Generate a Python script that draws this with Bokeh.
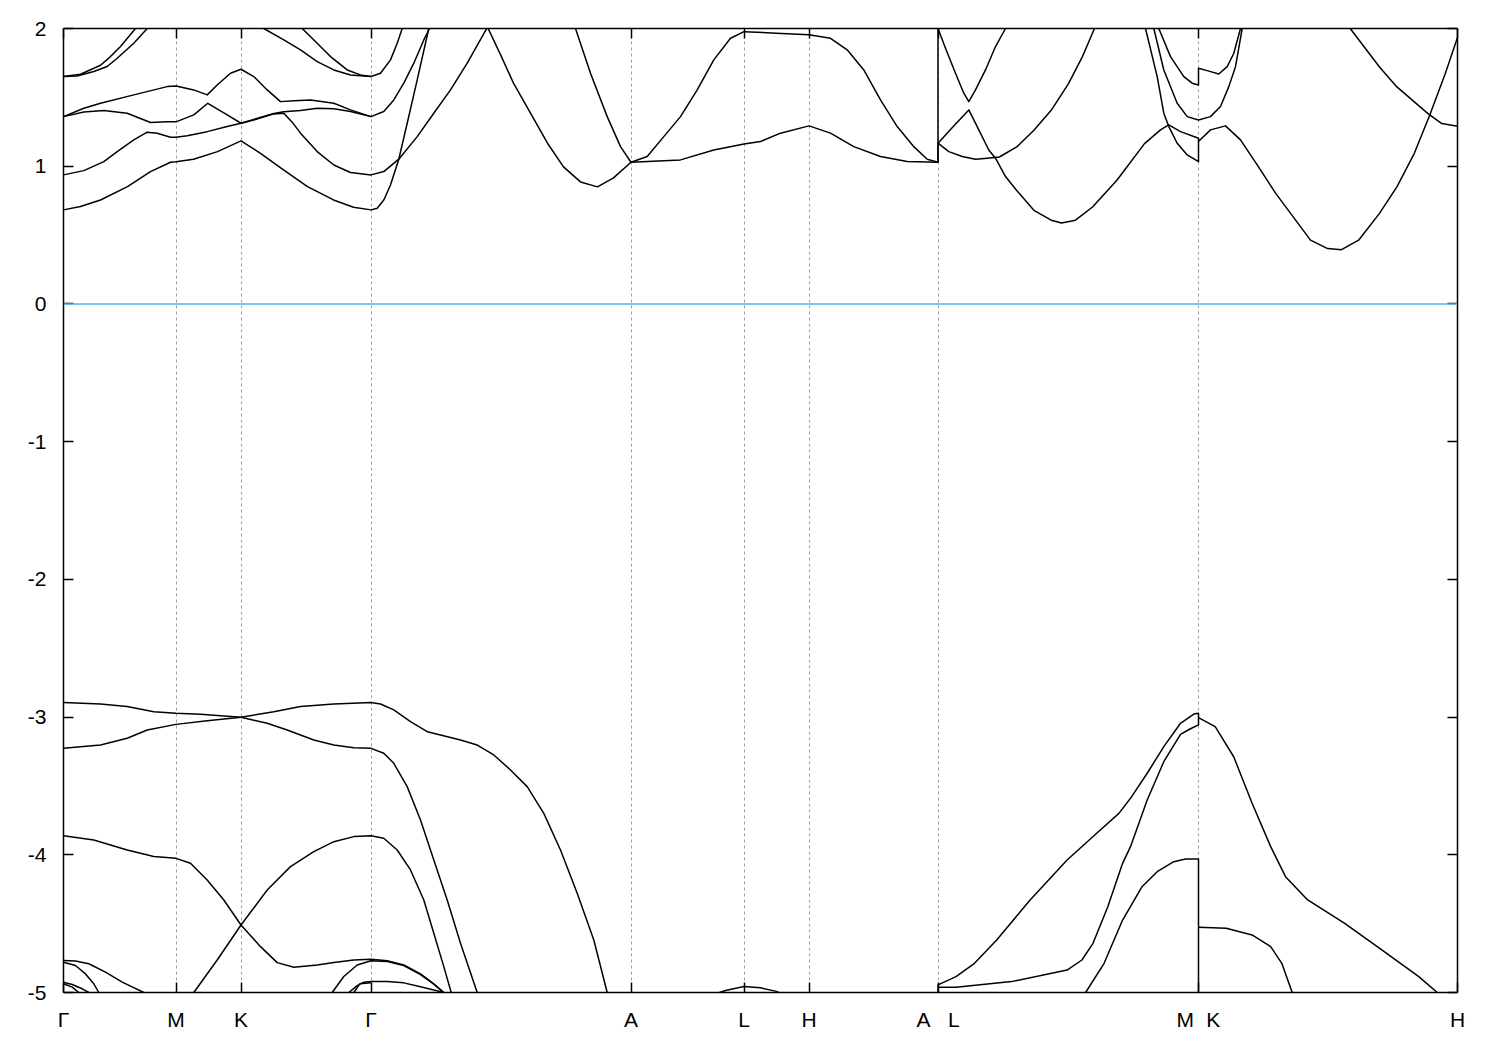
from bokeh.plotting import figure
from bokeh.models import Range1d, FixedTicker, LinearAxis, Span
from bokeh.embed import file_html
from bokeh.resources import INLINE

# ---------------- high-symmetry path ----------------
sym_k = [0.0, 1.125, 1.775, 3.075, 5.675, 6.805, 7.455, 8.745, 11.35, 13.94]
sym_labels = ["Γ", "M", "K", "Γ", "A", "L", "H", "A\u2002\u2004L", "M\u2002\u200aK", "H"]
e_ticks = [-5, -4, -3, -2, -1, 0, 1, 2]
e_tick_labels = ["-5", "-4", "-3", "-2", "-1", "0", "1", "2"]
e_fermi = 0.0

# ---------------- conduction bands ----------------
k_c1 = [0, 0.17, 0.37, 0.64, 0.87, 1.07, 1.125, 1.30, 1.54, 1.775, 1.97, 2.20, 2.44, 2.70, 2.90,
        3.075, 3.137, 3.203, 3.27, 3.353, 3.437, 3.537, 3.653]
e_c1 = [0.683, 0.707, 0.755, 0.852, 0.961, 1.029, 1.033, 1.051, 1.106, 1.184, 1.094, 0.973, 0.852, 0.755, 0.702,
        0.683, 0.695, 0.755, 0.864, 1.051, 1.312, 1.627, 2.0]

k_c2 = [0, 0.203, 0.403, 0.537, 0.703, 0.837, 0.937, 1.07, 1.125, 1.237, 1.437, 1.637, 1.775, 1.903, 2.103,
        2.203, 2.287, 2.37, 2.537, 2.703, 2.87, 3.075, 3.203, 3.353, 3.537, 3.703, 3.87, 4.037, 4.24, 4.37,
        4.50, 4.67, 4.84, 5.00, 5.17, 5.34, 5.50, 5.675]
e_c2 = [0.937, 0.968, 1.033, 1.106, 1.191, 1.247, 1.24, 1.21, 1.21, 1.222, 1.251, 1.288, 1.312, 1.336, 1.38,
        1.385, 1.32, 1.24, 1.106, 1.009, 0.954, 0.937, 0.961, 1.051, 1.215, 1.385, 1.554, 1.748, 2.01, 1.81,
        1.603, 1.385, 1.167, 0.995, 0.886, 0.85, 0.915, 1.029]

k_c3 = [0, 0.203, 0.403, 0.637, 0.87, 1.037, 1.125, 1.303, 1.443, 1.637, 1.775, 1.903, 2.103, 2.203, 2.37,
        2.537, 2.703, 2.87, 3.075, 3.203, 3.303, 3.403, 3.503, 3.603, 3.66]
e_c3 = [1.36, 1.394, 1.404, 1.385, 1.317, 1.322, 1.322, 1.373, 1.457, 1.373, 1.312, 1.34, 1.383, 1.395, 1.404,
        1.421, 1.418, 1.397, 1.36, 1.397, 1.481, 1.603, 1.748, 1.917, 2.0]

k_c4 = [0, 0.203, 0.37, 0.703, 1.037, 1.125, 1.303, 1.437, 1.537, 1.67, 1.775, 1.903, 2.037, 2.17, 2.303,
        2.47, 2.703, 2.87, 3.075]
e_c4 = [1.36, 1.421, 1.457, 1.518, 1.578, 1.583, 1.554, 1.518, 1.59, 1.675, 1.704, 1.651, 1.554, 1.469, 1.476,
        1.481, 1.457, 1.409, 1.36]

k_c5 = [0, 0.17, 0.37, 0.47, 0.57, 0.72]
e_c5 = [1.651, 1.668, 1.733, 1.796, 1.869, 2.0]

k_c6 = [0, 0.137, 0.303, 0.437, 0.537, 0.703, 0.837]
e_c6 = [1.651, 1.655, 1.688, 1.724, 1.784, 1.893, 2.0]

k_c7 = [2.003, 2.203, 2.37, 2.537, 2.703, 2.87, 3.075, 3.17, 3.27, 3.337, 3.387]
e_c7 = [2.0, 1.917, 1.845, 1.76, 1.699, 1.663, 1.651, 1.675, 1.772, 1.893, 2.0]

k_c8 = [2.387, 2.537, 2.67, 2.837, 2.97, 3.075]
e_c8 = [2.0, 1.893, 1.796, 1.699, 1.663, 1.651]

k_c9 = [5.12, 5.27, 5.437, 5.57, 5.675, 5.837, 6.003, 6.17, 6.337, 6.503, 6.67, 6.805, 7.13, 7.455, 7.67,
        7.837, 8.003, 8.17, 8.337, 8.503, 8.637, 8.745, 8.745, 8.82, 8.92, 9.003, 9.053, 9.12, 9.22, 9.32, 9.42]
e_c9 = [2.0, 1.675, 1.36, 1.142, 1.029, 1.07, 1.215, 1.36, 1.554, 1.772, 1.929, 1.977, 1.966, 1.954, 1.929,
        1.845, 1.699, 1.481, 1.288, 1.142, 1.051, 1.029, 2.0, 1.857, 1.675, 1.53, 1.469, 1.554, 1.699, 1.869, 2.0]

k_c10 = [5.675, 6.17, 6.503, 6.805, 6.97, 7.17, 7.455, 7.67, 7.903, 8.17, 8.437, 8.745,
         8.745, 8.90, 9.053, 9.153, 9.253, 9.32, 9.42, 9.53, 9.704, 9.877, 9.98, 10.12, 10.29, 10.534, 10.81,
         10.97, 11.053, 11.17, 11.35,
         11.35, 11.47, 11.62, 11.77, 11.95, 12.124, 12.297, 12.47, 12.642, 12.78, 12.951, 13.158, 13.334,
         13.507, 13.662, 13.818, 13.94]
e_c10 = [1.029, 1.046, 1.118, 1.162, 1.179, 1.24, 1.293, 1.24, 1.142, 1.07, 1.034, 1.029,
         1.167, 1.29, 1.409, 1.264, 1.118, 1.058, 0.925, 0.826, 0.68, 0.608, 0.588, 0.608, 0.704, 0.898, 1.164,
         1.264, 1.30, 1.251, 1.203,
         1.179, 1.264, 1.293, 1.191, 0.995, 0.801, 0.632, 0.463, 0.402, 0.394, 0.463, 0.656, 0.85,
         1.092, 1.37, 1.673, 1.935]

k_c11 = [8.745, 8.853, 8.987, 9.12, 9.237, 9.359, 9.532, 9.704, 9.877, 10.05, 10.188, 10.31]
e_c11 = [1.167, 1.106, 1.07, 1.051, 1.058, 1.067, 1.14, 1.261, 1.406, 1.6, 1.794, 2.0]

k_c12 = [10.82, 10.937, 11.003, 11.053, 11.137, 11.237, 11.35, 11.35]
e_c12 = [2.0, 1.651, 1.385, 1.288, 1.167, 1.082, 1.033, 1.179]

k_c13 = [10.903, 11.003, 11.137, 11.237, 11.35, 11.47, 11.57, 11.653, 11.72, 11.787]
e_c13 = [2.0, 1.699, 1.457, 1.36, 1.336, 1.36, 1.433, 1.578, 1.723, 2.0]

k_c14 = [10.953, 11.07, 11.203, 11.287, 11.35, 11.35, 11.437, 11.553, 11.637, 11.703, 11.77]
e_c14 = [2.0, 1.796, 1.651, 1.603, 1.59, 1.711, 1.694, 1.67, 1.723, 1.82, 2.0]

k_c15 = [12.867, 13.16, 13.334, 13.645, 13.783, 13.94]
e_c15 = [2.0, 1.721, 1.576, 1.382, 1.31, 1.29]

# ---------------- valence bands ----------------
k_v1 = [0, 0.37, 0.637, 0.903, 1.125, 1.37, 1.775, 2.037, 2.237, 2.503, 2.703, 2.903, 3.075, 3.203, 3.303,
        3.437, 3.57, 3.703, 3.837, 3.97, 4.137]
e_v1 = [-2.895, -2.905, -2.924, -2.961, -2.973, -2.98, -3.001, -3.045, -3.094, -3.166, -3.203, -3.222, -3.227,
        -3.263, -3.336, -3.505, -3.747, -4.038, -4.328, -4.643, -5.0]

k_v2 = [0, 0.37, 0.637, 0.837, 1.125, 1.437, 1.775, 2.103, 2.37, 2.703, 3.075, 3.17, 3.303, 3.47, 3.637, 3.77,
        3.97, 4.137, 4.303, 4.47, 4.637, 4.803, 4.97, 5.137, 5.303, 5.437]
e_v2 = [-3.227, -3.203, -3.154, -3.094, -3.053, -3.026, -3.001, -2.961, -2.924, -2.905, -2.895, -2.905, -2.948,
        -3.033, -3.106, -3.13, -3.166, -3.203, -3.275, -3.384, -3.505, -3.699, -3.965, -4.28, -4.619, -5.0]

k_v3 = [0, 0.303, 0.637, 0.903, 1.125, 1.27, 1.437, 1.603, 1.775, 1.97, 2.137, 2.303, 2.537, 2.703, 2.903,
        3.075, 3.237, 3.403, 3.57, 3.703, 3.803]
e_v3 = [-3.861, -3.893, -3.965, -4.013, -4.026, -4.062, -4.183, -4.328, -4.51, -4.667, -4.783, -4.817, -4.80,
        -4.783, -4.764, -4.759, -4.77, -4.80, -4.865, -4.937, -5.0]

k_v4 = [1.303, 1.537, 1.775, 2.037, 2.27, 2.503, 2.703, 2.903, 3.075, 3.203, 3.337, 3.47, 3.603, 3.703, 3.803, 3.877]
e_v4 = [-5.0, -4.764, -4.51, -4.256, -4.086, -3.977, -3.905, -3.868, -3.861, -3.88, -3.965, -4.11, -4.328,
        -4.57, -4.812, -5.0]

k_v5 = [0, 0.12, 0.253, 0.42, 0.587, 0.803]
e_v5 = [-4.767, -4.772, -4.791, -4.852, -4.925, -5.0]

k_v6 = [0, 0.12, 0.22, 0.303, 0.353]
e_v6 = [-4.78, -4.804, -4.865, -4.937, -5.0]

k_v7 = [0, 0.087, 0.187, 0.253]
e_v7 = [-4.925, -4.942, -4.973, -5.0]

k_v8 = [0, 0.087, 0.153]
e_v8 = [-4.937, -4.961, -5.0]

k_v9 = [2.687, 2.803, 2.937, 3.075, 3.237, 3.403, 3.57, 3.703, 3.803]
e_v9 = [-5.0, -4.884, -4.80, -4.77, -4.775, -4.805, -4.87, -4.94, -5.0]

k_v10 = [2.853, 2.937, 3.003, 3.075, 3.237, 3.403, 3.57, 3.803]
e_v10 = [-5.0, -4.95, -4.925, -4.92, -4.92, -4.93, -4.958, -5.0]

k_v11 = [2.903, 2.963, 3.075]
e_v11 = [-5.0, -4.937, -4.93]

k_v12 = [6.52, 6.62, 6.805, 6.97, 7.12, 7.19]
e_v12 = [-5.01, -4.985, -4.957, -4.966, -4.99, -5.01]

k_v13 = [8.745, 8.745, 8.925, 9.11, 9.332, 9.666, 10.036, 10.332, 10.554, 10.67, 10.837, 11.003, 11.17, 11.303,
         11.35, 11.35, 11.517, 11.702, 11.886, 12.072, 12.22, 12.442, 12.812, 13.183, 13.553, 13.738]
e_v13 = [-5.05, -4.945, -4.885, -4.788, -4.619, -4.328, -4.038, -3.844, -3.699, -3.59, -3.408, -3.215, -3.045,
         -2.978, -2.973, -3.004, -3.07, -3.288, -3.626, -3.941, -4.159, -4.328, -4.498, -4.691, -4.885, -5.0]

k_v14 = [8.745, 8.925, 9.48, 10.036, 10.184, 10.295, 10.443, 10.591, 10.67, 10.837, 11.003, 11.17, 11.27,
         11.35, 11.35]
e_v14 = [-4.962, -4.962, -4.921, -4.837, -4.764, -4.643, -4.377, -4.062, -3.941, -3.602, -3.324, -3.125, -3.085,
         -3.057, -3.004]

k_v15 = [10.221, 10.406, 10.591, 10.787, 10.937, 11.103, 11.22, 11.35, 11.35]
e_v15 = [-5.0, -4.788, -4.474, -4.23, -4.123, -4.05, -4.03, -4.03, -5.05]

k_v16 = [11.35, 11.627, 11.886, 12.072, 12.183, 12.287]
e_v16 = [-4.527, -4.534, -4.582, -4.667, -4.788, -5.0]

bands_k = [k_c1, k_c2, k_c3, k_c4, k_c5, k_c6, k_c7, k_c8, k_c9, k_c10, k_c11, k_c12, k_c13, k_c14, k_c15,
           k_v1, k_v2, k_v3, k_v4, k_v5, k_v6, k_v7, k_v8, k_v9, k_v10, k_v11, k_v12, k_v13, k_v14, k_v15, k_v16]
bands_e = [e_c1, e_c2, e_c3, e_c4, e_c5, e_c6, e_c7, e_c8, e_c9, e_c10, e_c11, e_c12, e_c13, e_c14, e_c15,
           e_v1, e_v2, e_v3, e_v4, e_v5, e_v6, e_v7, e_v8, e_v9, e_v10, e_v11, e_v12, e_v13, e_v14, e_v15, e_v16]

FONT = "Liberation Sans"
FS = "21px"

p = figure(frame_width=1394, frame_height=964,
           x_range=Range1d(sym_k[0], sym_k[-1]), y_range=Range1d(-5, 2),
           output_backend="svg", toolbar_location=None,
           min_border_left=63, min_border_top=28, min_border_right=27, min_border_bottom=45,
           background_fill_color="white", border_fill_color="white")
p.outline_line_color = None

# grid: dashed verticals at inner high-symmetry points
p.xgrid.ticker = FixedTicker(ticks=sym_k[1:-1])
p.xgrid.grid_line_color = "#a0a0a0"
p.xgrid.grid_line_dash = "3 3"
p.xgrid.grid_line_width = 1
p.ygrid.visible = False

# bottom axis
xa = p.xaxis[0]
xa.ticker = FixedTicker(ticks=sym_k)
xa.major_label_overrides = {k: lab for k, lab in zip(sym_k, sym_labels)}
xa.major_label_standoff = 15

# left axis
ya = p.yaxis[0]
ya.ticker = FixedTicker(ticks=e_ticks)
ya.major_label_overrides = {v: lab for v, lab in zip(e_ticks, e_tick_labels)}
ya.major_label_standoff = 17

# mirror axes (ticks only, labels not drawn)
top = LinearAxis(ticker=FixedTicker(ticks=sym_k), major_label_text_color=None, major_label_standoff=0)
right = LinearAxis(ticker=FixedTicker(ticks=e_ticks), major_label_text_color=None, major_label_standoff=0)
p.add_layout(top, "above")
p.add_layout(right, "right")

for ax in [xa, ya, top, right]:
    ax.axis_line_color = "black"
    ax.axis_line_width = 1.5
    ax.major_tick_in = 10
    ax.major_tick_out = 0
    ax.major_tick_line_color = "black"
    ax.major_tick_line_width = 1.5
    ax.minor_tick_in = 0
    ax.minor_tick_out = 0
    ax.minor_tick_line_color = None
    ax.major_label_text_font = FONT
    ax.major_label_text_font_size = FS
for ax in [xa, ya]:
    ax.major_label_text_color = "black"

# Fermi level
p.add_layout(Span(location=e_fermi, dimension="width", line_color="#56b4e9", line_width=1.5))

# bands
p.multi_line(xs=bands_k, ys=bands_e, line_color="black", line_width=1.5, line_join="round")

open("out.html", "w").write(file_html(p, INLINE))
